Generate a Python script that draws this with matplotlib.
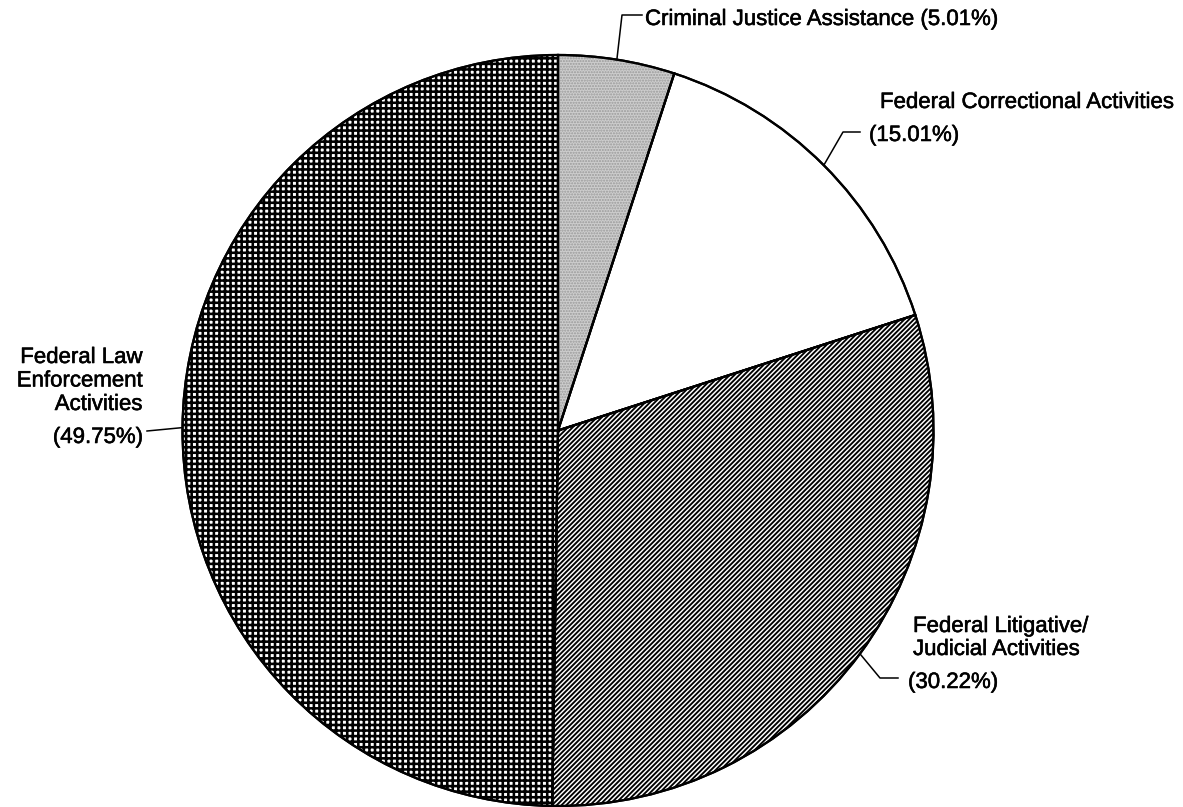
import matplotlib
matplotlib.use("Agg")
import matplotlib.pyplot as plt
import matplotlib.patheffects as pe
from matplotlib.patches import Wedge
import numpy as np

# ---- data ----
categories = ["Criminal Justice Assistance", "Federal Correctional Activities",
              "Federal Litigative/\nJudicial Activities",
              "Federal Law\nEnforcement\nActivities"]
shares = [5.01, 15.01, 30.22, 49.75]
pct_labels = ["(5.01%)", "(15.01%)", "(30.22%)", "(49.75%)"]

# ---- styles ----
faces = ["#cdcdcd", "white", "white", "white"]
hatches = ["", "", "///////", "+++"]
hatch_lws = [0.0, 0.0, 1.35, 1.85]

plt.rcParams["font.family"] = ["Liberation Sans", "DejaVu Sans"]
plt.rcParams["hatch.linewidth"] = 1.3

W, H = 1183, 807
fig = plt.figure(figsize=(W / 100, H / 100), dpi=100)
CX, CY, R = 558.0, 430.5, 375.5
ax = fig.add_axes([(CX - R) / W, (H - CY - R) / H, 2 * R / W, 2 * R / H])

wedges, _ = ax.pie(shares, startangle=90, counterclock=False, radius=1,
                   colors=faces, wedgeprops=dict(edgecolor="black", linewidth=1.6))
for w in wedges:
    w.set_clip_on(False)
ax.set_xlim(-1, 1)
ax.set_ylim(-1, 1)
ax.axis("off")

# hatch overlays (separate patches so each can carry its own hatch width)
for w, h, hl in zip(wedges, hatches, hatch_lws):
    if not h:
        continue
    with plt.rc_context({"hatch.linewidth": hl}):
        p = Wedge(w.center, w.r, w.theta1, w.theta2, facecolor="none",
                  edgecolor="black", hatch=h, linewidth=0, clip_on=False)
    if hasattr(p, "set_hatch_linewidth"):
        p.set_hatch_linewidth(hl)
    ax.add_patch(p)

# stipple texture for the small slice
w0 = wedges[0]
with plt.rc_context({"hatch.linewidth": 1.0}):
    st = Wedge(w0.center, w0.r, w0.theta1, w0.theta2, facecolor="none",
               edgecolor="#9a9a9a", hatch="......", linewidth=0, clip_on=False)
ax.add_patch(st)

# outlines on top
for w in wedges:
    ax.add_patch(Wedge(w.center, w.r, w.theta1, w.theta2, facecolor="none",
                       edgecolor="black", linewidth=1.6, clip_on=False))


def d(x, y):
    return ((x - CX) / R, (CY - y) / R)


def attach(w):
    a = np.deg2rad((w.theta1 + w.theta2) / 2)
    return (w.r * np.cos(a), w.r * np.sin(a))


FS = 16
lw = 1.1
stroke = [pe.withStroke(linewidth=0.4, foreground="black")]


def leader(w, pts):
    a0 = attach(w)
    xs = [a0[0]] + [d(*p)[0] for p in pts]
    ys = [a0[1]] + [d(*p)[1] for p in pts]
    ax.plot(xs, ys, color="black", lw=lw, clip_on=False)


def txt(x, y, s, ha="left"):
    xx, yy = d(x, y)
    ax.text(xx, yy, s, ha=ha, va="baseline", fontsize=FS, color="black",
            path_effects=stroke)

# Criminal Justice Assistance
leader(wedges[0], [(622, 15), (642, 15)])
txt(645, 25, categories[0] + " " + pct_labels[0])

# Federal Correctional Activities
leader(wedges[1], [(843, 132), (860, 132)])
txt(880, 108, categories[1])
txt(869, 141, pct_labels[1])

# Federal Litigative / Judicial
leader(wedges[2], [(880, 678), (898, 678)])
lit_lines = categories[2].split("\n")
txt(913, 632, lit_lines[0])
txt(913, 655, lit_lines[1])
txt(908, 688, pct_labels[2])

# Federal Law Enforcement
leader(wedges[3], [(147, 431)])
law_lines = categories[3].split("\n")
for i, line in enumerate(law_lines):
    txt(143, 363 + 23.5 * i, line, ha="right")
txt(143, 443, pct_labels[3], ha="right")

fig.savefig("out.png", dpi=100, facecolor="white")
